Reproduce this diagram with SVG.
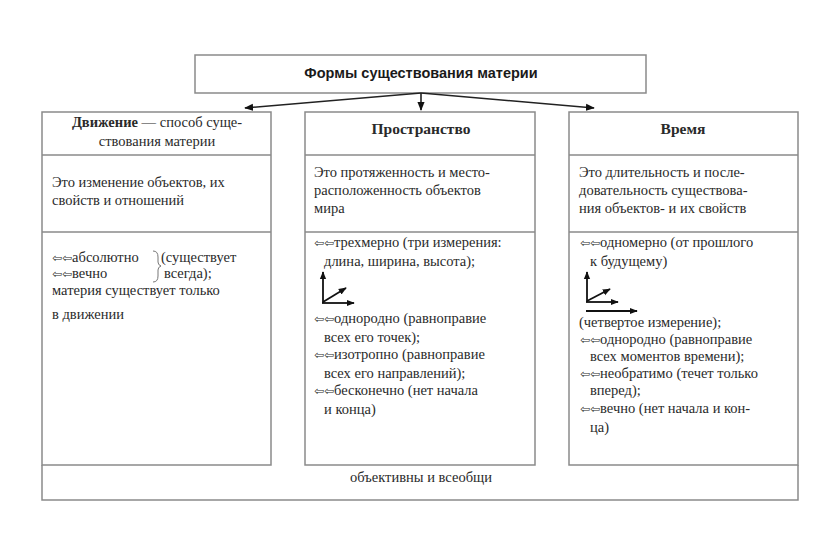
<svg xmlns="http://www.w3.org/2000/svg" width="816" height="536" viewBox="0 0 816 536">
<defs>
<style>
.box{fill:#fff;stroke:#8a8a8a;stroke-width:1.5}
.ln{stroke:#8a8a8a;stroke-width:1.5;fill:none}
.t{font-family:"Liberation Serif","Times New Roman",serif;font-size:14.5px;fill:#2a2a2a}
.b{font-weight:bold}
.h{font-size:15.5px}
.s{font-family:"Liberation Sans",Arial,sans-serif;font-size:14.5px;fill:#1a1a1a;font-weight:bold}
.ar{font-family:"DejaVu Sans",sans-serif;font-size:12px}
.con{stroke:#222;stroke-width:1.6;fill:none}
.ax{stroke:#111;stroke-width:1.8;fill:none}
</style>
<marker id="ah" viewBox="0 0 10 10" refX="9" refY="5" markerWidth="9" markerHeight="9" markerUnits="userSpaceOnUse" orient="auto">
<path d="M0,1 L10,5 L0,9 z" fill="#111"/>
</marker>
<marker id="ah2" viewBox="0 0 10 10" refX="9" refY="5" markerWidth="8" markerHeight="8" markerUnits="userSpaceOnUse" orient="auto">
<path d="M0,1 L10,5 L0,9 z" fill="#111"/>
</marker>
</defs>
<rect width="816" height="536" fill="#fff"/>

<g id="outer">
<path class="ln" d="M42,465 L42,500 L798,500 L798,465"/>
<text class="t" x="421" y="482" text-anchor="middle">объективны и всеобщи</text>
</g>

<g id="title">
<rect class="box" x="195" y="55" width="451" height="38"/>
<text class="s" x="421" y="78" text-anchor="middle">Формы существования  материи</text>
</g>

<g id="connectors">
<line class="con" x1="421" y1="93" x2="245" y2="108" marker-end="url(#ah)"/>
<line class="con" x1="421" y1="93" x2="421" y2="110" marker-end="url(#ah)"/>
<line class="con" x1="421" y1="93" x2="594" y2="108" marker-end="url(#ah)"/>
</g>

<g id="motion">
<rect class="box" x="42" y="112" width="229" height="353"/>
<line class="ln" x1="42" y1="155" x2="271" y2="155"/>
<line class="ln" x1="42" y1="232" x2="271" y2="232"/>
<text class="t" x="157" y="127" text-anchor="middle"><tspan class="b">Движение</tspan> — способ суще-</text>
<text class="t" x="157" y="146" text-anchor="middle">ствования материи</text>
<text class="t" x="52" y="187">Это изменение  объектов, их</text>
<text class="t" x="52" y="205">свойств и отношений</text>
<text class="t" x="52" y="262"><tspan class="ar">⇦⇦</tspan>абсолютно</text>
<text class="t" x="161" y="262">(существует</text>
<text class="t" x="52" y="278"><tspan class="ar">⇦⇦</tspan>вечно</text>
<text class="t" x="164" y="278">всегда);</text>
<path d="M153,251 Q158,251 158,257 L158,262 Q158,265 161,266 Q158,267 158,270 L158,276 Q158,282 153,282" fill="none" stroke="#777" stroke-width="1"/>
<text class="t" x="52" y="295">материя существует  только</text>
<text class="t" x="52" y="319">в движении</text>
</g>

<g id="space">
<rect class="box" x="305" y="112" width="230" height="353"/>
<line class="ln" x1="305" y1="155" x2="535" y2="155"/>
<line class="ln" x1="305" y1="232" x2="535" y2="232"/>
<text class="t b h" x="421" y="134" text-anchor="middle">Пространство</text>
<text class="t" x="314" y="177">Это протяженность  и место-</text>
<text class="t" x="314" y="195">расположенность  объектов</text>
<text class="t" x="314" y="213">мира</text>
<text class="t" x="314" y="247"><tspan class="ar">⇦⇦</tspan>трехмерно (три измерения:</text>
<text class="t" x="324" y="266">длина, ширина, высота);</text>
<line class="ax" x1="323" y1="303" x2="323" y2="272" marker-end="url(#ah2)"/>
<line class="ax" x1="322" y1="303" x2="354" y2="303" marker-end="url(#ah2)"/>
<line class="ax" x1="323" y1="302" x2="346" y2="288" marker-end="url(#ah2)"/>
<text class="t" x="314" y="323"><tspan class="ar">⇦⇦</tspan>однородно (равноправие</text>
<text class="t" x="324" y="342">всех его точек);</text>
<text class="t" x="314" y="359"><tspan class="ar">⇦⇦</tspan>изотропно (равноправие</text>
<text class="t" x="324" y="378">всех его направлений);</text>
<text class="t" x="314" y="395"><tspan class="ar">⇦⇦</tspan>бесконечно (нет начала</text>
<text class="t" x="324" y="414">и конца)</text>
</g>

<g id="time">
<rect class="box" x="569" y="112" width="229" height="353"/>
<line class="ln" x1="569" y1="155" x2="798" y2="155"/>
<line class="ln" x1="569" y1="232" x2="798" y2="232"/>
<text class="t b h" x="683" y="134" text-anchor="middle">Время</text>
<text class="t" x="579" y="177">Это длительность  и после-</text>
<text class="t" x="579" y="195">довательность существова-</text>
<text class="t" x="579" y="213">ния объектов-  и их свойств</text>
<text class="t" x="580" y="247"><tspan class="ar">⇦⇦</tspan>одномерно (от прошлого</text>
<text class="t" x="590" y="266">к будущему)</text>
<line class="ax" x1="587" y1="302" x2="587" y2="272" marker-end="url(#ah2)"/>
<line class="ax" x1="586" y1="302" x2="618" y2="302" marker-end="url(#ah2)"/>
<line class="ax" x1="587" y1="301" x2="610" y2="289" marker-end="url(#ah2)"/>
<line class="ax" x1="586" y1="311" x2="637" y2="311" marker-end="url(#ah2)"/>
<text class="t" x="579" y="327">(четвертое измерение);</text>
<text class="t" x="580" y="344"><tspan class="ar">⇦⇦</tspan>однородно (равноправие</text>
<text class="t" x="590" y="361">всех моментов времени);</text>
<text class="t" x="580" y="378"><tspan class="ar">⇦⇦</tspan>необратимо  (течет только</text>
<text class="t" x="590" y="395">вперед);</text>
<text class="t" x="580" y="413"><tspan class="ar">⇦⇦</tspan>вечно (нет начала и кон-</text>
<text class="t" x="590" y="432">ца)</text>
</g>
</svg>
